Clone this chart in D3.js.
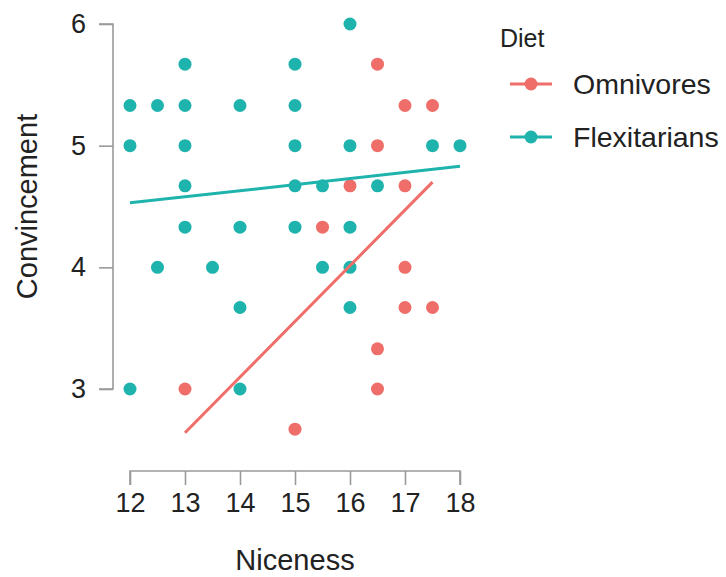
<!DOCTYPE html>
<html>
<head>
<meta charset="utf-8">
<script src="https://cdn.jsdelivr.net/npm/d3@7"></script>
<style>
  html, body { margin: 0; padding: 0; background: #fff; }
  text { font-family: "Liberation Sans", Arial, Helvetica, sans-serif; fill: #222; }
</style>
</head>
<body>
<svg id="chart" width="726" height="577"></svg>
<script>
// Niceness / Convincement observations per diet group
const omniX = [13, 15, 15.5, 16, 16.5, 16.5, 16.5, 16.5, 17, 17, 17, 17, 17.5, 17.5];
const omniY = [3, 2.67, 4.33, 4.67, 5.67, 5, 3.33, 3, 5.33, 4.67, 4, 3.67, 5.33, 3.67];

const flexX = [12, 12, 12, 12.5, 12.5, 13, 13, 13, 13, 13, 13.5, 14, 14, 14, 14,
               15, 15, 15, 15, 15, 15.5, 15.5, 16, 16, 16, 16, 16, 16.5, 17.5, 18];
const flexY = [5.33, 5, 3, 5.33, 4, 5.67, 5.33, 5, 4.67, 4.33, 4, 5.33, 4.33, 3.67, 3,
               5.67, 5.33, 5, 4.67, 4.33, 4.67, 4, 6, 5, 4.33, 4, 3.67, 4.67, 5, 5];

// Fitted regression line end points per group
const omniFitX = [13, 17.5];
const omniFitY = [2.64, 4.70];
const flexFitX = [12, 18];
const flexFitY = [4.53, 4.83];

const groups = ["Omnivores", "Flexitarians"];
const groupColors = ["#ef6e69", "#1fb3ad"];

const xTicks = [12, 13, 14, 15, 16, 17, 18];
const yTicks = [3, 4, 5, 6];

const svg = d3.select("#chart");

const x = d3.scaleLinear().domain([12, 18]).range([130, 460]);
const y = d3.scaleLinear().domain([3, 6]).range([389, 24]);
const color = d3.scaleOrdinal().domain(groups).range(groupColors);

// Axes (range-frame style)
const axisColor = "#9a9a9a";
const xAxis = svg.append("g")
  .attr("transform", "translate(0,471)")
  .call(d3.axisBottom(x).tickValues(xTicks).tickFormat(d3.format("d")).tickSize(14).tickPadding(8));
const yAxis = svg.append("g")
  .attr("transform", "translate(113,0)")
  .call(d3.axisLeft(y).tickValues(yTicks).tickFormat(d3.format("d")).tickSize(14).tickPadding(13));

[xAxis, yAxis].forEach(g => {
  g.select(".domain").attr("stroke", axisColor).attr("stroke-width", 1.6);
  g.selectAll(".tick line").attr("stroke", axisColor).attr("stroke-width", 1.6);
  g.selectAll(".tick text")
    .attr("font-size", 27)
    .attr("font-family", "Liberation Sans, Arial, sans-serif")
    .attr("fill", "#222");
});
xAxis.select(".domain").attr("d", `M${x(12)},14V0H${x(18)}V14`);
yAxis.select(".domain").attr("d", `M-14,${y(6)}H0V${y(3)}H-14`);

// Axis titles
svg.append("text")
  .attr("x", (x(12) + x(18)) / 2)
  .attr("y", 570)
  .attr("text-anchor", "middle")
  .attr("font-size", 29)
  .text("Niceness");

svg.append("text")
  .attr("transform", `translate(37,${(y(3) + y(6)) / 2}) rotate(-90)`)
  .attr("text-anchor", "middle")
  .attr("font-size", 29)
  .text("Convincement");

// Points
const omniData = omniX.map((v, i) => ({ x: v, y: omniY[i], g: "Omnivores" }));
const flexData = flexX.map((v, i) => ({ x: v, y: flexY[i], g: "Flexitarians" }));

const plot = svg.append("g");

plot.selectAll("circle.pt")
  .data(flexData.concat(omniData))
  .join("circle")
  .attr("class", "pt")
  .attr("cx", d => x(d.x))
  .attr("cy", d => y(d.y))
  .attr("r", 6.5)
  .attr("fill", d => color(d.g));

// Regression lines
const line = d3.line().x(d => x(d[0])).y(d => y(d[1]));
const fits = [
  { g: "Flexitarians", pts: flexFitX.map((v, i) => [v, flexFitY[i]]) },
  { g: "Omnivores", pts: omniFitX.map((v, i) => [v, omniFitY[i]]) }
];
plot.selectAll("path.fit")
  .data(fits)
  .join("path")
  .attr("class", "fit")
  .attr("d", d => line(d.pts))
  .attr("fill", "none")
  .attr("stroke", d => color(d.g))
  .attr("stroke-width", 3);

// Legend
const legend = svg.append("g");
legend.append("text")
  .attr("x", 500)
  .attr("y", 47)
  .attr("font-size", 25)
  .text("Diet");

const items = legend.selectAll("g.item")
  .data(groups)
  .join("g")
  .attr("class", "item")
  .attr("transform", (d, i) => `translate(0,${84 + i * 53})`);
items.append("line")
  .attr("x1", 510).attr("x2", 552)
  .attr("y1", 0).attr("y2", 0)
  .attr("stroke", d => color(d))
  .attr("stroke-width", 3);
items.append("circle")
  .attr("cx", 531).attr("cy", 0).attr("r", 6.5)
  .attr("fill", d => color(d));
items.append("text")
  .attr("x", 573)
  .attr("y", 0)
  .attr("dy", "0.35em")
  .attr("font-size", 28.5)
  .text(d => d);
</script>
</body>
</html>
